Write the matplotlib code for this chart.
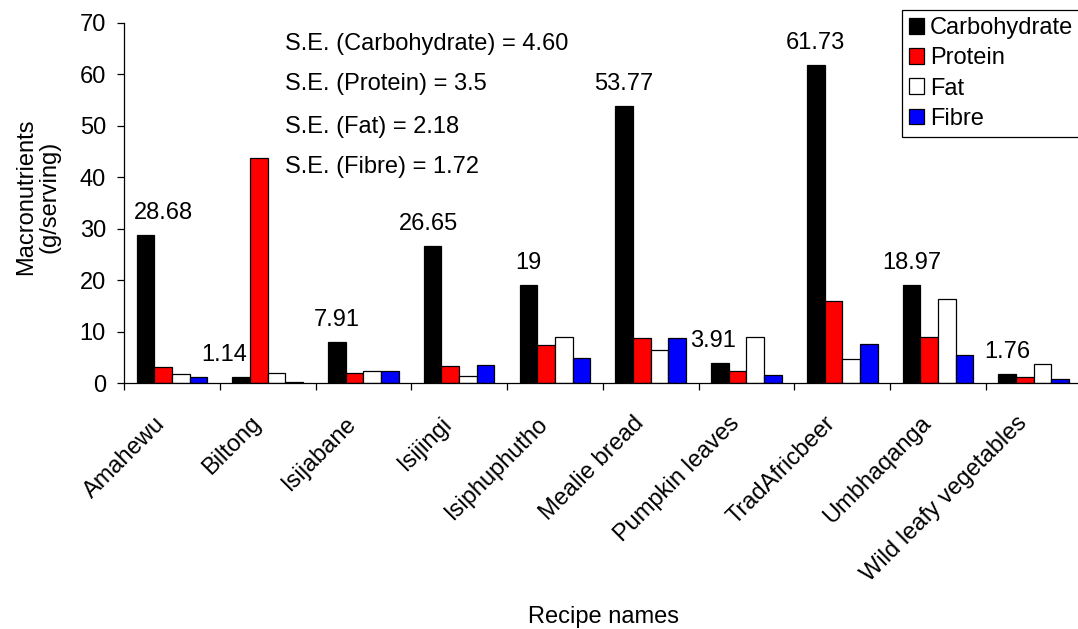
import matplotlib
matplotlib.use("Agg")
import matplotlib.pyplot as plt
import matplotlib.transforms as mtrans
import numpy as np

recipes = ["Amahewu", "Biltong", "Isijabane", "Isijingi", "Isiphuphutho",
           "Mealie bread", "Pumpkin leaves", "TradAfricbeer", "Umbhaqanga",
           "Wild leafy vegetables"]
carbohydrate = [28.68, 1.14, 7.91, 26.65, 19, 53.77, 3.91, 61.73, 18.97, 1.76]
protein = [3.1, 43.7, 2.0, 3.3, 7.4, 8.8, 2.3, 15.9, 8.9, 1.2]
fat = [1.8, 1.9, 2.4, 1.3, 9.0, 6.4, 9.0, 4.6, 16.3, 3.7]
fibre = [1.2, 0.2, 2.3, 3.5, 4.9, 8.8, 1.6, 7.5, 5.4, 0.8]
carb_labels = ["28.68", "1.14", "7.91", "26.65", "19", "53.77", "3.91",
               "61.73", "18.97", "1.76"]
se_lines = ["S.E. (Carbohydrate) = 4.60", "S.E. (Protein) = 3.5",
            "S.E. (Fat) = 2.18", "S.E. (Fibre) = 1.72"]

plt.rcParams['font.family'] = ['Liberation Sans', 'DejaVu Sans']
FS = 17

W, H = 1078, 629
fig = plt.figure(figsize=(W / 100, H / 100), dpi=100)
ax = fig.add_axes([124 / W, 1 - 383 / H, 957.6 / W, (383 - 22.7) / H])

x = np.arange(len(recipes))
bw = 0.1845
series = [("Carbohydrate", carbohydrate, "#000000"),
          ("Protein", protein, "#ff0000"),
          ("Fat", fat, "#ffffff"),
          ("Fibre", fibre, "#0000ff")]
for k, (name, vals, col) in enumerate(series):
    ax.bar(x + (k - 1.5) * bw, vals, width=bw, color=col, edgecolor="black",
           linewidth=0.9, label=name, zorder=2)

# value labels over carbohydrate bars
label_dx = [13, -12, 0, -3, 0, 0, -5, 0, 0, 0]
for i, (v, t) in enumerate(zip(carbohydrate, carb_labels)):
    ax.annotate(t, (x[i] - 1.5 * bw, v), xytext=(label_dx[i], 16),
                textcoords="offset points", ha="center", va="center",
                fontsize=FS, color="black")

# S.E. annotations
se_y = [65.8, 58.0, 49.7, 41.9]
for t, yy in zip(se_lines, se_y):
    ax.text(1.18, yy, t, ha="left", va="center", fontsize=FS)

ax.set_xlim(-0.5, len(recipes) - 0.5)
ax.set_ylim(0, 70)
ax.set_yticks(np.arange(0, 71, 10))
ax.tick_params(axis="y", direction="out", length=5, width=0.9, pad=8,
               labelsize=FS)
ax.set_xticks(x)
ax.set_xticklabels(recipes, rotation=45, ha="right", rotation_mode="anchor",
                   fontsize=FS)
ax.tick_params(axis="x", which="major", length=0, pad=14)
ax.set_xticks(np.arange(-0.5, len(recipes), 1), minor=True)
ax.tick_params(axis="x", which="minor", direction="out", length=5, width=0.9)
shift = mtrans.ScaledTranslation(-18 / 100, -10 / 100, fig.dpi_scale_trans)
for lbl in ax.get_xticklabels():
    lbl.set_transform(lbl.get_transform() + shift)

for s in ["top", "right"]:
    ax.spines[s].set_visible(False)
for s in ["left", "bottom"]:
    ax.spines[s].set_linewidth(0.9)

fig.text(38 / W, 1 - 197 / H, "Macronutrients\n(g/serving)", fontsize=FS,
         rotation=90, ha="center", va="center", linespacing=1.05)
fig.text(604 / W, 1 - 617 / H, "Recipe names", ha="center", va="center",
         fontsize=FS)

leg = ax.legend(loc="upper left", bbox_to_anchor=(901.7 / W, 1 - 10 / H),
                bbox_transform=fig.transFigure, fontsize=FS, frameon=True,
                fancybox=False, edgecolor="black", framealpha=1,
                handlelength=0.65, handleheight=0.65, handletextpad=0.25,
                borderpad=0.3, labelspacing=0.35, borderaxespad=0)
leg.get_frame().set_linewidth(0.9)

fig.savefig("out.png", dpi=100)
